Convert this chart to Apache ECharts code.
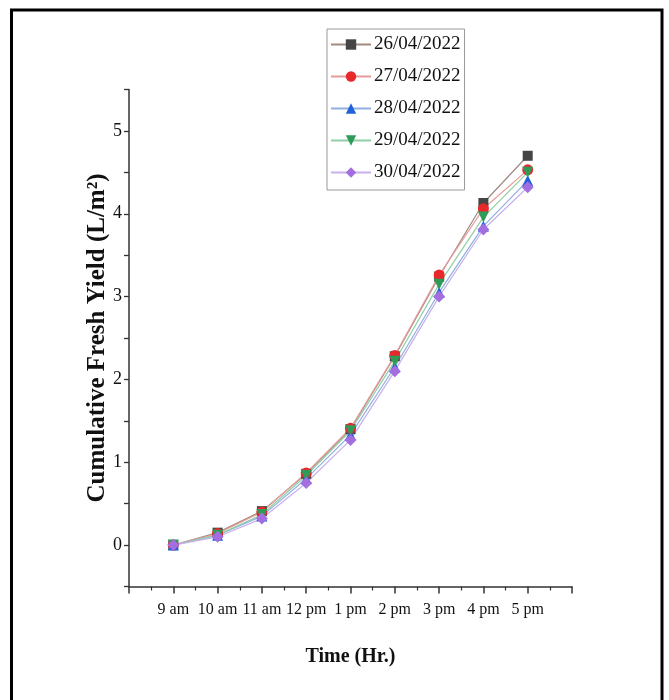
<!DOCTYPE html>
<html>
<head>
<meta charset="utf-8">
<script src="https://cdn.jsdelivr.net/npm/echarts@6/dist/echarts.min.js"></script>
<style>
html,body{margin:0;padding:0;background:#fff;}
#chart{width:669px;height:700px;}
</style>
</head>
<body>
<div id="chart"></div>
<script>
const categories = ['9 am','10 am','11 am','12 pm','1 pm','2 pm','3 pm','4 pm','5 pm'];
const seriesNames = ['26/04/2022','27/04/2022','28/04/2022','29/04/2022','30/04/2022'];
const d26 = [0.00, 0.15, 0.41, 0.86, 1.40, 2.28, 3.24, 4.13, 4.70];
const d27 = [0.00, 0.14, 0.40, 0.87, 1.41, 2.29, 3.26, 4.06, 4.53];
const d28 = [0.00, 0.12, 0.35, 0.80, 1.33, 2.15, 3.05, 3.85, 4.40];
const d29 = [0.00, 0.12, 0.37, 0.84, 1.38, 2.22, 3.15, 3.96, 4.50];
const d30 = [0.00, 0.10, 0.32, 0.75, 1.27, 2.10, 3.00, 3.81, 4.32];
const yTicks = [0, 1, 2, 3, 4, 5];

const allData = [d26, d27, d28, d29, d30];
const colors = ['#454545', '#e8282b', '#2060d8', '#2e9c58', '#a36fe0'];
const lineColors = ['#a08a80', '#e89a9a', '#8fb0e0', '#8fcfa5', '#c8b0ec'];
const symbols = ['rect', 'circle', 'triangle', 'path://M0,0 L10,0 L5,10 Z', 'diamond'];
const symSizes = [10, 11, 11, 11, 12];

const chart = echarts.init(document.getElementById('chart'), null, {renderer: 'canvas'});

const series = seriesNames.map((name, k) => ({
  name: name,
  type: 'line',
  data: allData[k].map((v, i) => [i + 1, v]),
  symbol: symbols[k],
  symbolSize: symSizes[k],
  itemStyle: {color: colors[k]},
  lineStyle: {color: lineColors[k], width: 1.2},
  emphasis: {disabled: true},
  animation: false
}));

chart.setOption({
  backgroundColor: '#fff',
  animation: false,
  graphic: [{
    type: 'rect',
    shape: {x: 11.5, y: 10, width: 650.5, height: 720},
    style: {fill: 'none', stroke: '#000', lineWidth: 3},
    silent: true
  }],
  grid: {left: 129, right: 97, top: 89.5, bottom: 113.5, containLabel: false},
  legend: {
    left: 327, top: 29,
    orient: 'vertical',
    data: seriesNames,
    itemWidth: 40, itemHeight: 13,
    itemGap: 13,
    padding: [6, 4, 8, 3],
    borderColor: '#999', borderWidth: 1,
    textStyle: {fontFamily: 'Liberation Serif', fontSize: 19, color: '#111', padding: [0,0,0,-2]}
  },
  xAxis: {
    type: 'value',
    min: 0, max: 10, interval: 1,
    name: 'Time (Hr.)',
    nameLocation: 'middle',
    nameGap: 60,
    nameMoveOverlap: false,
    nameTextStyle: {fontFamily: 'Liberation Serif', fontWeight: 'bold', fontSize: 20, color: '#111'},
    axisLine: {show: true, onZero: false, lineStyle: {color: '#333', width: 1.5}},
    axisTick: {show: true, inside: false, length: 7, lineStyle: {color: '#333', width: 1.5}},
    minorTick: {show: true, splitNumber: 2, length: 4, lineStyle: {color: '#333', width: 1.2}},
    splitLine: {show: false},
    axisLabel: {
      fontFamily: 'Liberation Serif', fontSize: 16, color: '#111', margin: 15,
      formatter: v => (v >= 1 && v <= categories.length) ? categories[v - 1] : ''
    }
  },
  yAxis: {
    type: 'value',
    min: -0.5, max: 5.5, interval: 0.5,
    name: 'Cumulative Fresh Yield (L/m²)',
    nameLocation: 'middle',
    nameGap: 19,
    nameMoveOverlap: false,
    nameTextStyle: {fontFamily: 'Liberation Serif', fontWeight: 'bold', fontSize: 25, color: '#111'},
    axisLine: {show: true, onZero: false, lineStyle: {color: '#333', width: 1.5}},
    axisTick: {show: true, length: 5, lineStyle: {color: '#333', width: 1.3}},
    splitLine: {show: false},
    axisLabel: {
      fontFamily: 'Liberation Serif', fontSize: 18, color: '#111', margin: 7,
      formatter: v => yTicks.indexOf(v) >= 0 ? String(v) : ''
    }
  },
  series: series
});
</script>
</body>
</html>
